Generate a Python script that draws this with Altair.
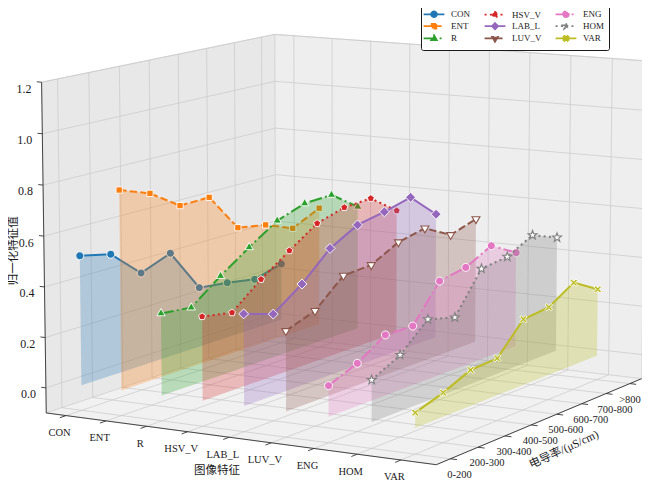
import numpy as np
import pandas as pd
import altair as alt

FEATURES = ["CON", "ENT", "R", "HSV_V", "LAB_L", "LUV_V", "ENG", "HOM", "VAR"]
BINS = ["0-200", "200-300", "300-400", "400-500", "500-600", "600-700", "700-800", ">800"]
Z_TICKS = [0.0, 0.2, 0.4, 0.6, 0.8, 1.0, 1.2]

# normalised feature value per conductivity bin
CON = [0.514, 0.486, 0.376, 0.422, 0.245, 0.230, 0.209, 0.240]
ENT = [0.788, 0.744, 0.664, 0.666, 0.510, 0.489, 0.442, 0.495]
R = [0.323, 0.309, 0.399, 0.480, 0.555, 0.594, 0.598, 0.517]
HSV_V = [0.329, 0.307, 0.403, 0.483, 0.560, 0.593, 0.599, 0.516]
LAB_L = [0.358, 0.320, 0.402, 0.509, 0.570, 0.591, 0.619, 0.517]
LUV_V = [0.311, 0.351, 0.453, 0.460, 0.517, 0.540, 0.480, 0.513]
ENG = [0.120, 0.166, 0.238, 0.235, 0.378, 0.398, 0.452, 0.390]
HOM = [0.162, 0.218, 0.318, 0.288, 0.445, 0.458, 0.512, 0.469]
VAR = [0.058, 0.093, 0.140, 0.146, 0.262, 0.273, 0.336, 0.273]
VALUES = {"CON": CON, "ENT": ENT, "R": R, "HSV_V": HSV_V, "LAB_L": LAB_L,
          "LUV_V": LUV_V, "ENG": ENG, "HOM": HOM, "VAR": VAR}

COLORS = ["#1f77b4", "#ff7f0e", "#2ca02c", "#d62728", "#9467bd",
          "#8c564b", "#e377c2", "#7f7f7f", "#bcbd22"]
DASHES = [None, [7.4, 3.2], [12.8, 3.2, 2, 3.2], [2, 3.3], None,
          [7.4, 3.2], [12.8, 3.2, 2, 3.2], [2, 3.3], None]
MARKERS = ["o", "s", "^", "p", "D", "v", "o", "*", "X"]
SIZES = [64, 60, 70, 55, 82, 64, 64, 88, 70]
HOLLOW = ["LUV_V", "HOM"]

SERIF = "Liberation Serif"
CJK = "Liberation Serif, Noto Sans CJK SC"

# ---- matplotlib-like perspective camera -------------------------------
ELEV, AZIM = 10, -60
XLIM, YLIM, ZLIM = (-0.5, 8.8), (-0.5, 7.5), (-0.1, 1.2)
W, H = 634, 480
SCALE, CX, CY = 3840, 342.0, 226.6

box = np.array([4.0, 4.0, 3.0])
box *= 1.8294640721620434 / np.linalg.norm(box)
lo = np.array([XLIM[0], YLIM[0], ZLIM[0]])
k = box / (np.array([XLIM[1], YLIM[1], ZLIM[1]]) - lo)
el, az = np.radians(ELEV), np.radians(AZIM)
w = np.array([np.cos(el) * np.cos(az), np.cos(el) * np.sin(az), np.sin(el)])
eye = box / 2 + 10 * w
u = np.array([-np.sin(az), np.cos(az), 0.0])
v = np.cross(w, u)


def lin(vec, sign=1.0):
    return sign * (-(vec * k * lo).sum() - vec @ eye), sign * vec * k


XV, YV, DEP = lin(u), lin(v), lin(w, -1.0)


def _aff(c0, c, f):
    return "(" + f"{c0:.7f}" + "".join(f"{ci:+.7f}*datum.{fi}" for ci, fi in zip(c, f)) + ")"


def project(ch, f=("X", "Y", "Z"), out=("px", "py"), off=(0.0, 0.0)):
    den = _aff(*DEP, f)
    return ch.transform_calculate(**{
        out[0]: f"{CX + off[0]:.3f}+{SCALE}*{_aff(*XV, f)}/{den}",
        out[1]: f"{CY + off[1]:.3f}-{SCALE}*{_aff(*YV, f)}/{den}",
    })


XS = alt.Scale(domain=[0, W], nice=False, zero=False)
YS = alt.Scale(domain=[0, H], nice=False, zero=False, reverse=True)
PX = alt.X("px:Q", scale=XS, axis=None)
PY = alt.Y("py:Q", scale=YS, axis=None)


# ---- marker shapes ---------------------------------------------------
def ngon(n, r0=1.0, r1=None, rot=-90):
    pts = []
    for m in range(n):
        a = np.radians(rot + 360 * m / n)
        pts.append((r0 * np.cos(a), r0 * np.sin(a)))
        if r1:
            b = np.radians(rot + 360 * (m + 0.5) / n)
            pts.append((r1 * np.cos(b), r1 * np.sin(b)))
    return pts


PLUS = [(0.25, 0.25), (0.25, 1), (-0.25, 1), (-0.25, 0.25), (-1, 0.25), (-1, -0.25),
        (-0.25, -0.25), (-0.25, -1), (0.25, -1), (0.25, -0.25), (1, -0.25), (1, 0.25)]
SHAPES = {
    "s": ngon(4, 1.15, rot=-45),
    "^": ngon(3, 1.15),
    "v": ngon(3, 1.15, rot=90),
    "p": ngon(5),
    "D": ngon(4, 1.1),
    "*": ngon(5, 1.0, 0.4),
    "X": [((x - y) * 0.7071, (x + y) * 0.7071) for x, y in PLUS],
}


def marker_path(m, r=1.0):
    if m == "o":
        return f"M{r:g},0A{r:g},{r:g} 0 1,1 {-r:g},0A{r:g},{r:g} 0 1,1 {r:g},0Z"
    return "M" + "L".join(f"{x * r:.3f},{y * r:.3f}" for x, y in SHAPES[m]) + "Z"


# ---- axes box: panes, grid, edges, ticks --------------------------------
x0, x1 = XLIM
y0, y1 = YLIM
z0, z1 = ZLIM


def poly_df(corners):
    corners = corners + corners[:1]
    return pd.DataFrame([{"X": a, "Y": b, "Z": c, "k": n} for n, (a, b, c) in enumerate(corners)])


panes = [
    (poly_df([(x0, y0, z0), (x0, y1, z0), (x0, y1, z1), (x0, y0, z1)]), "#e8e8e8"),
    (poly_df([(x0, y1, z0), (x1, y1, z0), (x1, y1, z1), (x0, y1, z1)]), "#eeeeee"),
    (poly_df([(x0, y0, z0), (x1, y0, z0), (x1, y1, z0), (x0, y1, z0)]), "#f1f1f1"),
]

seg_cols = ["X", "Y", "Z", "X2", "Y2", "Z2"]
grid_rows = []
for j in range(len(BINS)):
    grid_rows.append((x0, j, z0, x0, j, z1))
    grid_rows.append((x0, j, z0, x1, j, z0))
for i in range(len(FEATURES)):
    grid_rows.append((i, y1, z0, i, y1, z1))
    grid_rows.append((i, y0, z0, i, y1, z0))
for z in Z_TICKS:
    grid_rows.append((x0, y0, z, x0, y1, z))
    grid_rows.append((x0, y1, z, x1, y1, z))
grid_df = pd.DataFrame(grid_rows, columns=seg_cols)

edge_df = pd.DataFrame([(x0, y0, z0, x1, y0, z0), (x1, y0, z0, x1, y1, z0),
                        (x0, y0, z0, x0, y0, z1)], columns=seg_cols)

tick_rows = [(i, y0, z0, i, y0 - 0.2, z0) for i in range(len(FEATURES))]
tick_rows += [(x1, j, z0, x1 + 0.15, j, z0) for j in range(len(BINS))]
tick_rows += [(x0, y0, z, x0 - 0.12, y0, z) for z in Z_TICKS]
tick_df = pd.DataFrame(tick_rows, columns=seg_cols)


def seg_chart(df, color, width):
    ch = project(alt.Chart(df))
    ch = project(ch, ("X2", "Y2", "Z2"), ("qx", "qy"))
    return ch.mark_rule(color=color, strokeWidth=width).encode(
        x=PX, y=PY, x2="qx:Q", y2="qy:Q")


layers = []
for df, col in panes:
    layers.append(project(alt.Chart(df)).mark_line(
        fill=col, stroke="#d4d4d4", strokeWidth=0.8).encode(x=PX, y=PY, order="k:Q"))
layers.append(seg_chart(grid_df, "#c8c8c8", 0.7))
layers.append(seg_chart(edge_df, "#333333", 0.9))
layers.append(seg_chart(tick_df, "#333333", 0.9))


def text_chart(df, off, size, font=SERIF, angle=0, keep_in=0):
    ch = project(alt.Chart(df), off=off)
    if keep_in:
        # keep labels that sit on the right edge inside the canvas
        ch = ch.transform_calculate(px=f"min(datum.px, {W - keep_in})")
    return ch.mark_text(
        font=font, fontSize=size, color="#1a1a1a", align="center",
        baseline="middle", angle=angle).encode(x=PX, y=PY, text="label:N")


xlab = pd.DataFrame({"X": range(len(FEATURES)), "Y": y0, "Z": z0, "label": FEATURES})
ylab = pd.DataFrame({"X": x1, "Y": range(len(BINS)), "Z": z0, "label": BINS})
zlab = pd.DataFrame({"X": x0, "Y": y0, "Z": Z_TICKS, "label": [f"{z:.1f}" for z in Z_TICKS]})
layers.append(text_chart(xlab, (-6.5, 17.4), 10.5))
layers.append(text_chart(ylab, (9.0, 16.0), 10.5, keep_in=12))
layers.append(text_chart(zlab, (-17.5, 6.4), 12))

xt = pd.DataFrame({"X": [(x0 + x1) / 2], "Y": [y0], "Z": [z0], "label": ["图像特征"]})
yt = pd.DataFrame({"X": [x1], "Y": [(y0 + y1) / 2], "Z": [z0], "label": ["电导率/(μS/cm)"]})
zt = pd.DataFrame({"X": [x0], "Y": [y0], "Z": [(z0 + z1) / 2], "label": ["归一化特征值"]})
layers.append(text_chart(xt, (-18.6, 33.4), 11.5, CJK))
layers.append(text_chart(yt, (20.0, 30.4), 11.5, CJK, angle=335))
layers.append(text_chart(zt, (-29.5, 2.0), 11.5, CJK, angle=270))

# ---- the nine feature curves -------------------------------------------
for i, feat in enumerate(FEATURES):
    vals = VALUES[feat]
    n = len(vals)
    line_df = pd.DataFrame({"X": i, "Y": range(n), "Z": vals, "k": range(n)})
    fill_df = pd.DataFrame({
        "X": i,
        "Y": list(range(n)) + list(range(n - 1, -1, -1)),
        "Z": list(vals) + [0.0] * n,
        "k": range(2 * n),
    })
    col = COLORS[i]
    layers.append(project(alt.Chart(fill_df)).mark_line(
        fill=col, fillOpacity=0.28, strokeOpacity=0, strokeWidth=0).encode(
        x=PX, y=PY, order="k:Q"))
    line_kw = {"color": col, "strokeWidth": 2}
    if DASHES[i]:
        line_kw["strokeDash"] = DASHES[i]
    layers.append(project(alt.Chart(line_df)).mark_line(**line_kw).encode(
        x=PX, y=PY, order="k:Q"))
    hollow = feat in HOLLOW
    layers.append(project(alt.Chart(line_df)).mark_point(
        shape=marker_path(MARKERS[i]), size=SIZES[i], filled=True, opacity=1,
        fill="white" if hollow else col, stroke=col if hollow else "white",
        strokeWidth=1.1 if hollow else 0.9).encode(x=PX, y=PY))

# ---- legend: three columns, filled column by column ----------------------
leg = alt.Legend(title=None, orient="none", legendX=413, legendY=-3, columns=3,
                 strokeColor="#1a1a1a", fillColor="white", padding=4, cornerRadius=2,
                 labelFont=SERIF, labelFontSize=9, labelColor="#1a1a1a", labelOffset=12,
                 symbolSize=64, symbolStrokeWidth=1.8, symbolOffset=4,
                 columnPadding=10, rowPadding=-1.8, labelLimit=80)
dom = FEATURES
legend_layer = project(alt.Chart(pd.DataFrame({"feature": FEATURES, "X": 0, "Y": 0, "Z": 0}))) \
    .transform_filter("false").mark_point(filled=True, opacity=1).encode(
    x=PX, y=PY,
    fill=alt.Fill("feature:N", scale=alt.Scale(domain=dom, range=COLORS), legend=leg),
    stroke=alt.Stroke("feature:N", scale=alt.Scale(domain=dom, range=COLORS), legend=leg),
    shape=alt.Shape("feature:N", scale=alt.Scale(
        domain=dom, range=["M-2.6,0L2.6,0" + marker_path(m, 0.7) for m in MARKERS]), legend=leg),
    strokeDash=alt.StrokeDash("feature:N", scale=alt.Scale(
        domain=dom, range=[d or [1, 0] for d in DASHES]), legend=leg),
)
layers.append(legend_layer)

chart = alt.layer(*layers).properties(
    width=W, height=H, padding=0, autosize=alt.AutoSizeParams(type="none")
).configure_view(strokeWidth=0)

chart.save("out.html", embed_options={"renderer": "svg", "actions": False})
